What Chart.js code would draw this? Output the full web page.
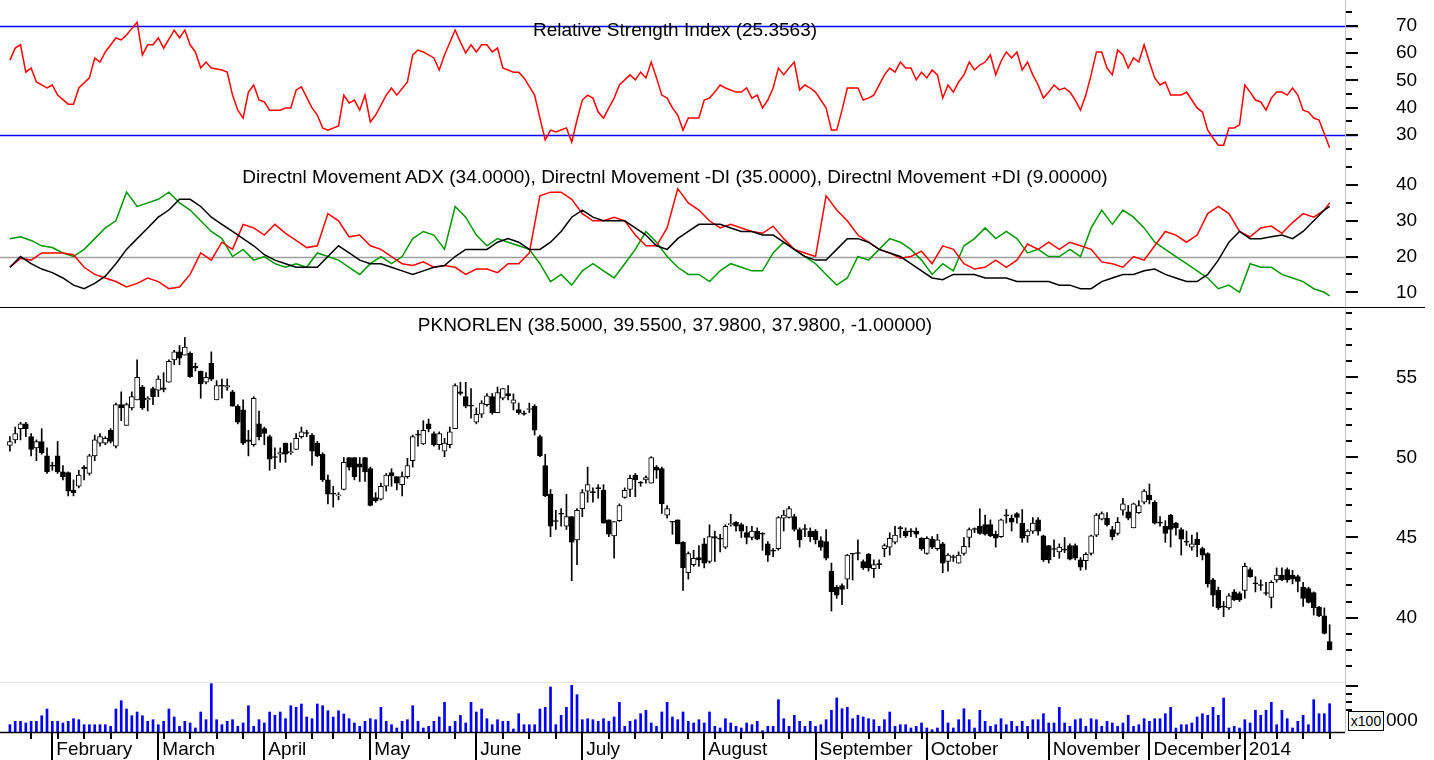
<!DOCTYPE html>
<html>
<head>
<meta charset="utf-8">
<title>PKNORLEN</title>
<script src="https://cdn.jsdelivr.net/npm/chart.js@4.4.1/dist/chart.umd.min.js"></script>
<style>
  body { margin: 0; background: #fff; }
  #page { position: relative; width: 1434px; height: 760px; overflow: hidden; background: #fff;
          font-family: "Liberation Sans", Arial, sans-serif; color: #000; }
  #page canvas { position: absolute; left: 0; }
  .title { position: absolute; left: 0; width: 1350px; text-align: center; font-size: 19px; line-height: 22px; white-space: nowrap; }
  .rule { position: absolute; }
  #unit { position: absolute; left: 1348px; top: 711px; width: 34px; height: 18px; border: 1px solid #000; background: #fff;
          font-size: 14px; line-height: 18px; text-align: center; }
  #unitVal { position: absolute; left: 1386px; top: 709px; font-size: 19px; line-height: 22px; }
</style>
</head>
<body>
<div id="page">
  <canvas id="rsiChart" width="1434" height="163" style="top:0"></canvas>
  <canvas id="dmiChart" width="1434" height="145" style="top:163px"></canvas>
  <canvas id="priceChart" width="1434" height="374" style="top:308px"></canvas>
  <canvas id="volChart" width="1434" height="78" style="top:682px"></canvas>
  <div class="rule" style="left:1345px;top:0;width:1px;height:732px;background:#c4c4c4"></div>
  <div class="rule" style="left:0;top:307px;width:1425px;height:1px;background:#000"></div>
  <div class="rule" style="left:0;top:682px;width:1345px;height:1px;background:#e2e2e2"></div>
  <div class="title" style="top:19px">Relative Strength Index (25.3563)</div>
  <div class="title" style="top:166px">Directnl Movement ADX (34.0000), Directnl Movement -DI (35.0000), Directnl Movement +DI (9.00000)</div>
  <div class="title" style="top:314px">PKNORLEN (38.5000, 39.5500, 37.9800, 37.9800, -1.00000)</div>
  <div id="unit">x100</div>
  <div id="unitVal">000</div>
</div>
<script>
// trading days: 22 Jan 2013 .. 27 Jan 2014, index 0..249
var monthNames = ['February', 'March', 'April', 'May', 'June', 'July', 'August', 'September', 'October', 'November', 'December', '2014'];
var monthStart = [8, 28, 48, 68, 88, 108, 131, 152, 173, 196, 215, 233];
var weekStart = [4, 9, 14, 19, 24, 29, 34, 39, 44, 52, 57, 61, 66, 69, 74, 79, 84, 93, 98, 103, 113, 118, 123, 128,
  133, 138, 142, 147, 157, 162, 167, 172, 177, 182, 187, 192, 201, 205, 210, 220, 225, 230, 232, 235, 239, 244, 249];

var open = [
  50.75, 51.1, 51.8, 52.1, 51.3, 50.6, 51.0, 50.1, 49.5, 50.1,
  49.1, 49.05, 47.95, 48.2, 49.4, 49.0, 50.1, 50.9, 50.9, 51.7,
  50.7, 53.3, 52.0, 53.1, 53.6, 54.4, 53.6, 54.3, 54.2, 54.35,
  54.7, 56.1, 56.6, 56.4, 56.5, 55.7, 55.4, 54.7, 55.9, 53.6,
  54.5, 54.4, 54.1, 53.2, 52.97, 51.1, 50.8, 52.1, 51.8, 51.3,
  50.05, 50.2, 50.9, 50.3, 50.5, 51.3, 51.5, 51.4, 50.9, 50.2,
  48.6, 47.75, 47.6, 48.0, 50.0, 50.0, 49.6, 50.0, 49.3, 47.5,
  47.4, 48.2, 49.05, 48.8, 48.3, 48.8, 49.8, 51.4, 50.85, 52.1,
  51.5, 50.8, 50.4, 50.8, 51.8, 54.1, 53.8, 53.2, 52.2, 52.7,
  53.3, 53.8, 52.8, 53.7, 54.0, 53.4, 53.0, 52.75, 53.0, 53.2,
  51.3, 49.5, 47.7, 46.0, 46.5, 45.7, 46.3, 44.85, 46.8, 47.9,
  47.85, 48.05, 47.97, 46.1, 45.1, 46.05, 47.5, 48.0, 48.9, 48.4,
  48.6, 48.4, 49.4, 49.3, 46.4, 45.95, 46.1, 44.7, 42.8, 43.3,
  43.75, 44.6, 43.5, 45.05, 44.9, 44.4, 45.8, 45.95, 45.8, 45.3,
  45.0, 45.4, 45.2, 44.6, 44.2, 44.3, 46.2, 46.25, 46.3, 45.5,
  45.5, 45.4, 45.4, 44.8, 44.75, 42.9, 41.9, 42.0, 42.4, 43.95,
  44.0, 43.5, 43.95, 43.05, 43.3, 44.3, 44.4, 44.7, 45.6, 45.4,
  45.35, 45.4, 44.95, 44.0, 44.9, 44.3, 44.6, 43.5, 43.75, 43.4,
  44.0, 45.0, 45.5, 45.7, 45.8, 45.8, 45.2, 45.05, 46.35, 46.2,
  46.5, 45.9, 45.1, 45.4, 46.1, 45.1, 44.5, 44.25, 44.1, 44.2,
  44.5, 44.5, 43.6, 43.55, 44.0, 45.15, 46.15, 46.2, 45.5, 45.25,
  46.7, 46.6, 45.6, 46.55, 47.2, 47.65, 47.2, 45.95, 45.7, 46.4,
  45.9, 45.5, 44.7, 44.4, 44.9, 44.3, 44.0, 42.35, 41.7, 40.7,
  40.6, 41.6, 41.5, 41.7, 43.0, 42.1, 42.05, 41.5, 41.25, 42.35,
  42.65, 43.0, 42.65, 42.55, 41.9, 41.8, 41.55, 40.65, 40.1, 38.5
];
var high = [
  51.3, 51.9, 52.2, 52.2, 51.5, 51.1, 51.8, 50.6, 49.7, 51.0,
  49.5, 49.1, 48.6, 49.2, 49.5, 50.2, 51.4, 51.5, 51.3, 51.8,
  53.4, 54.1, 53.4, 54.1, 56.1, 54.5, 53.8, 54.4, 55.1, 55.3,
  56.1, 56.7, 57.0, 57.5, 56.6, 55.9, 55.4, 55.3, 56.6, 54.8,
  54.9, 54.9, 54.2, 53.3, 53.6, 51.7, 53.8, 52.9, 51.9, 51.4,
  50.6, 50.6, 50.9, 50.9, 51.5, 51.9, 51.7, 51.5, 51.0, 50.3,
  48.9, 48.2, 47.8, 50.0, 50.0, 50.0, 50.0, 50.0, 49.4, 47.8,
  48.4, 49.0, 49.3, 48.8, 49.1, 49.95, 51.4, 51.7, 52.3, 52.4,
  51.6, 51.6, 51.2, 51.9, 54.6, 54.7, 54.7, 54.3, 53.1, 53.55,
  54.0, 54.0, 54.4, 54.3, 54.5, 53.97, 53.4, 52.9, 53.4, 53.3,
  51.4, 50.2, 48.0, 46.7, 46.8, 47.7, 46.3, 46.8, 48.0, 49.4,
  48.1, 48.3, 48.3, 46.1, 46.0, 47.1, 48.1, 48.9, 49.0, 48.5,
  48.85, 50.05, 49.5, 49.4, 47.0, 46.0, 46.1, 44.75, 44.1, 44.2,
  44.5, 44.95, 45.8, 45.4, 45.2, 45.8, 46.45, 46.0, 45.9, 45.7,
  45.7, 45.6, 45.3, 44.75, 44.3, 46.3, 46.7, 46.95, 46.45, 45.6,
  45.8, 45.6, 45.5, 45.05, 45.5, 43.4, 42.0, 42.1, 43.95, 44.0,
  44.85, 43.6, 44.0, 43.6, 43.6, 44.6, 45.3, 45.7, 45.7, 45.6,
  45.55, 45.6, 45.0, 45.05, 45.05, 45.2, 44.7, 44.0, 43.9, 44.1,
  45.0, 45.6, 45.6, 46.8, 46.4, 46.1, 45.4, 46.15, 46.75, 46.4,
  46.55, 46.75, 45.5, 46.25, 46.25, 45.15, 44.5, 44.85, 44.6, 45.0,
  44.6, 44.6, 43.75, 44.05, 45.15, 46.5, 46.6, 46.55, 45.7, 46.25,
  47.45, 47.0, 47.15, 47.3, 48.0, 48.34, 47.3, 46.3, 46.05, 46.45,
  45.95, 45.6, 45.4, 45.15, 45.3, 44.4, 44.05, 42.45, 41.9, 41.0,
  41.5, 41.75, 41.6, 43.4, 43.1, 42.55, 42.35, 42.2, 42.3, 43.1,
  43.1, 43.1, 42.95, 42.65, 42.2, 41.9, 41.6, 40.7, 40.6, 39.55
];
var low = [
  50.4, 50.9, 51.1, 51.3, 50.1, 49.8, 50.2, 49.0, 49.2, 49.0,
  48.6, 47.6, 47.6, 48.1, 48.6, 48.9, 49.8, 50.7, 50.8, 50.9,
  50.6, 52.3, 52.0, 52.97, 53.6, 53.0, 52.9, 53.3, 53.8, 54.1,
  54.7, 55.8, 55.8, 56.4, 55.0, 55.4, 53.7, 54.6, 54.8, 53.6,
  53.7, 54.2, 53.2, 52.1, 50.8, 50.1, 50.7, 51.1, 50.8, 49.2,
  49.3, 49.7, 49.7, 50.2, 50.5, 51.2, 51.3, 49.5, 50.05, 48.5,
  47.1, 46.9, 47.35, 47.97, 49.2, 48.6, 48.5, 48.5, 46.97, 47.2,
  47.35, 47.9, 48.2, 47.97, 47.6, 48.7, 49.4, 50.7, 50.8, 51.6,
  50.7, 50.5, 50.05, 50.6, 51.8, 53.9, 53.1, 52.45, 52.1, 52.5,
  53.2, 52.7, 52.8, 53.6, 53.6, 52.97, 52.7, 52.65, 52.8, 51.4,
  50.05, 47.55, 45.05, 45.5, 45.7, 45.5, 42.3, 43.3, 46.3, 47.2,
  47.2, 47.45, 45.9, 45.05, 43.7, 46.0, 47.45, 47.55, 47.55, 48.2,
  48.4, 48.4, 48.7, 46.5, 46.2, 45.2, 44.6, 41.7, 42.4, 43.2,
  43.2, 43.1, 43.4, 43.5, 44.1, 44.3, 45.7, 45.4, 45.0, 44.6,
  44.85, 44.85, 44.2, 43.5, 43.8, 44.2, 45.4, 46.2, 45.4, 44.4,
  45.05, 44.75, 44.6, 44.2, 43.6, 40.4, 41.2, 40.8, 41.8, 42.35,
  43.6, 43.0, 42.9, 42.5, 43.05, 43.8, 43.9, 44.6, 45.0, 45.0,
  45.05, 45.0, 44.2, 43.95, 44.3, 44.2, 42.8, 42.9, 43.5, 43.4,
  43.9, 44.4, 45.3, 45.2, 45.15, 45.05, 44.4, 45.0, 45.9, 45.4,
  45.9, 44.7, 44.7, 45.25, 45.15, 43.5, 43.4, 43.8, 43.7, 44.05,
  43.6, 43.6, 42.95, 43.0, 43.9, 45.05, 46.1, 45.7, 44.85, 45.15,
  46.4, 46.1, 45.6, 46.5, 47.1, 47.1, 45.84, 45.7, 44.7, 44.4,
  45.15, 43.9, 44.5, 44.2, 43.8, 43.6, 41.9, 40.7, 40.5, 40.05,
  40.5, 41.05, 41.0, 41.2, 42.5, 41.6, 41.7, 41.4, 40.6, 42.2,
  42.3, 42.2, 42.1, 41.6, 40.7, 40.9, 40.15, 40.05, 38.97, 37.98
];
var close = [
  51.0, 51.5, 52.1, 51.8, 50.5, 51.0, 50.3, 49.1, 49.45, 49.1,
  48.8, 47.9, 47.8, 48.9, 49.3, 50.1, 51.1, 51.3, 51.2, 51.0,
  53.3, 53.1, 53.3, 53.8, 55.0, 53.1, 53.7, 53.8, 54.9, 54.25,
  56.0, 56.6, 56.2, 56.9, 55.05, 55.6, 54.6, 55.0, 54.9, 54.5,
  54.45, 54.5, 53.2, 52.2, 50.9, 51.0, 53.7, 51.3, 51.5, 49.9,
  50.0, 50.3, 50.2, 50.35, 51.2, 51.6, 51.5, 50.4, 50.1, 48.6,
  47.7, 47.7, 47.65, 49.7, 49.4, 48.8, 49.4, 49.1, 47.0, 47.3,
  48.2, 48.9, 48.85, 48.4, 48.8, 49.5, 51.3, 51.4, 51.7, 51.8,
  50.8, 51.5, 50.9, 51.6, 54.5, 54.0, 53.2, 53.2, 52.7, 53.4,
  53.85, 52.8, 54.05, 54.3, 53.85, 53.6, 52.8, 52.7, 53.05, 51.7,
  50.1, 47.6, 45.7, 46.0, 46.45, 46.3, 44.7, 46.7, 47.8, 48.3,
  47.8, 48.05, 45.9, 45.2, 46.0, 47.0, 47.95, 48.7, 48.6, 48.4,
  48.75, 50.0, 49.2, 47.1, 46.8, 45.95, 44.6, 43.1, 44.0, 43.7,
  43.6, 43.4, 45.05, 44.95, 44.9, 45.7, 45.85, 45.7, 45.4, 45.0,
  45.4, 44.9, 45.2, 43.9, 44.15, 46.25, 46.4, 46.8, 45.5, 44.85,
  45.5, 45.05, 44.85, 44.4, 43.7, 41.6, 41.4, 41.75, 43.9, 43.95,
  44.0, 43.1, 43.1, 43.3, 43.3, 44.5, 44.95, 45.15, 45.55, 45.1,
  45.35, 45.2, 44.3, 44.95, 44.4, 44.85, 43.4, 43.9, 43.75, 43.9,
  44.45, 45.5, 45.5, 45.25, 45.2, 45.1, 44.95, 46.1, 46.35, 45.95,
  46.25, 44.95, 45.4, 45.9, 45.4, 43.6, 43.6, 44.25, 44.4, 44.2,
  43.65, 43.7, 43.15, 43.95, 45.1, 46.4, 46.5, 45.8, 45.05, 45.95,
  47.1, 46.2, 47.1, 47.0, 47.9, 47.35, 45.9, 45.9, 45.25, 45.5,
  45.6, 44.9, 44.7, 44.6, 44.55, 43.9, 42.1, 41.4, 40.6, 40.65,
  41.35, 41.1, 41.1, 43.2, 42.55, 42.1, 42.0, 41.5, 42.2, 42.65,
  42.35, 42.35, 42.4, 42.25, 41.2, 40.95, 40.6, 40.1, 39.0, 37.98
];
var volume = [
  7.3, 10.7, 10.7, 9, 10.7, 10.7, 16.3, 23, 10.7, 10.7,
  9, 10.7, 13.3, 12.3, 7.3, 7.3, 7.3, 7.3, 7.3, 5.7,
  23, 31.3, 23, 16.3, 20, 16.3, 10.7, 12.3, 7.3, 10.7,
  23, 15, 5.7, 10.7, 9, 4, 20, 12.3, 48.3, 12.3,
  7.3, 10.7, 12.3, 5.7, 9, 26.3, 5.7, 12.3, 9, 20,
  16.7, 20, 13.3, 26.3, 24.7, 28, 15, 13.3, 28, 26.3,
  21.3, 15, 21.3, 18, 13.3, 9, 5.7, 10.7, 13.3, 12.3,
  24.7, 10.7, 7.3, 4, 10.7, 12.3, 26.3, 10.7, 4, 5.7,
  10.7, 15, 29.7, 5.7, 10.7, 16.7, 9, 29.7, 20, 23,
  13.3, 7.3, 12.3, 10.7, 10.7, 3, 18.3, 7.3, 7.3, 7.3,
  23, 24.7, 45, 7.3, 16.7, 24.7, 46.7, 37.3, 12.3, 13.3,
  12.3, 10.7, 13.3, 10.7, 15, 29.7, 5.7, 10.7, 12.3, 18.3,
  21.7, 9, 5.7, 20, 29.7, 15, 12.3, 20, 10.7, 9,
  12.3, 9, 20, 5.7, 4, 13.3, 9, 5.7, 4, 9,
  7.3, 10.7, 1.3, 5.7, 5.7, 32.3, 13.3, 5.7, 16.7, 10.7,
  5.7, 10.7, 5.7, 7.3, 12.3, 21.7, 34, 23.3, 24.7, 13.3,
  16.7, 15, 13.3, 12.3, 5.7, 12.3, 20, 5.7, 7.3, 7.3,
  4, 5.7, 9, 4, 2.3, 4, 21.7, 9, 4, 12.3,
  23.3, 12.3, 4, 21.7, 10.7, 5.7, 7.3, 13.3, 7.3, 10.7,
  5.7, 10.7, 5.7, 12.3, 12.3, 18.3, 9, 9, 24.7, 9,
  5.7, 12.3, 13.3, 5.7, 13.3, 12.3, 5.7, 10.7, 9, 5.7,
  9, 16.7, 5.7, 7.3, 13.3, 10.7, 13.3, 13.3, 18.3, 24.7,
  4, 7.3, 7.3, 9, 15, 18.3, 16.7, 24.7, 16.7, 34,
  4, 5.7, 4, 12.3, 9, 21.7, 16.7, 21.7, 29.7, 7.3,
  21.7, 13.3, 4, 10.7, 16.7, 7.3, 32.3, 18.3, 18.3, 28.3
];
var rsi = [
  57.4, 61.8, 63, 53, 54.5, 49.4, null, 47.2, 48.3, 44.6,
  null, 41.3, 41.3, 47.2, null, 50.9, 58.2, 56.7, 60.4, null,
  65.5, 64.8, 66.6, null, 71.3, 59.3, 63, 63, 65.5, 61.8,
  null, 68.4, 65.5, 68.4, 63, 60.4, 54.5, 56.7, 54.5, null,
  53.8, 53, 44.6, 39.1, 36.2, 45.7, 48.3, 42.8, 42.1, 39.1,
  null, 39.1, 39.9, 39.9, 46.5, 47.6, null, 39.9, 37.3, 32.6,
  31.8, null, 33.3, 44.6, 41.7, 42.8, 39.1, 44.6, 34.8, 37.3,
  null, 44.6, 47.2, 44.6, null, 49.4, 59.3, 61.1, 60.4, null,
  58.2, 53.8, 59.3, null, 68.4, 64, 60, 63, 60.4, 63,
  63, 60.4, 61.8, 54.5, null, 53, 53, 50.9, null, 44.6,
  36.2, 28.2, 31.8, 31.1, null, 32.6, 27.4, 35.5, 42.8, 44.6,
  43.5, 38.4, 36.2, 39.9, 43.5, 48.3, null, 52, 50.2, 53,
  50.9, 56.7, 50.9, 44.6, 43.5, 39.9, 37.3, 31.8, 36.2, 36.2,
  36.2, 42.8, 43.5, 45.7, 48.3, 47.2, null, 45.7, 45.7, 47.2,
  43.5, 44.6, 39.9, 42.8, 47.2, 54.5, 52, 54.5, 56.7, 46.5,
  48.3, 47.2, 45.7, 42.8, 39.9, 31.8, 31.8, 39.1, 47.2, 47.2,
  47.2, 42.8, 43.5, 44.6, null, 52, 54.5, 53, 56.7, 54.5,
  54.5, 50.2, 53, 50.9, 53.8, 52, 43.5, 48.3, 45.7, 49.4,
  52, 56.7, 53.8, 55.6, 56.7, 59.3, 52, 57, 60.4, 58.2,
  60.4, 53.8, 56.7, 52, 48.3, 43.5, 45.7, 48.3, 46.5, 47.2,
  45.7, 42.8, 39.1, 44.6, 52, 60.4, 60.4, 54.5, 52, 61.1,
  59.3, 54.5, 58.2, 56.7, 63, 56.7, 50.9, 48.3, 49.4, 44.6,
  44.6, 44.6, 45.7, 42.8, 39.9, 38.4, 31.8, 28.9, 26.3, 26.3,
  32.6, 32.6, 33.7, 48.3, 45.7, 42.8, 42.1, 39.1, 43.5, 45.7,
  45.7, 44.6, 47.2, 44.6, 39.1, 38.4, 36.2, 35.5, 30.5, 25.36
];
// directional movement, read every second day (last value = day 249)
var adx = [
  17, 20, 18, 16.5, 15.5, 14, 12, 11, 12.5, 14.5,
  18, 22, 25, 28, 31, 33, 36, 36, 34, 31,
  29, 27, 25, 23, 20.5, 19, 18, 17, 17, 17,
  20, 23, 21, 19, 18, 18, 17, 16, 15, 16,
  17, 17.5, 20, 22, 22, 22, 24, 25, 24, 22,
  22, 24, 27, 31, 33, 31, 30, 30, 30, 28,
  26, 23, 22, 25, 27, 29, 29, 29, 28, 27,
  27, 26, 26, 24, 22, 20, 19, 19, 22, 25,
  25, 24, 22, 21, 20, 18, 16, 14, 13.5, 15,
  15, 15, 14, 14, 14, 13, 13, 13, 13, 12,
  12, 11, 11, 13, 14, 15, 15, 16, 16.5, 15,
  14, 13, 13, 15, 19, 24, 27, 25, 25, 25.5,
  26, 25, 27, 30, 33, 34
];
var diMinus = [
  17, 19.5, 19, 21, 21, 21, 20.5, 17, 15, 14,
  13, 11.5, 12.5, 14, 13, 11, 11.5, 15, 21, 19,
  24, 22, 29, 28, 26, 29, 26.5, 24.5, 22.5, 23,
  32, 30, 25.5, 26, 23, 22, 20, 18, 17.5, 18.5,
  17, 17.5, 17, 15, 16.5, 16.5, 15.5, 18, 18, 21,
  37, 38, 38, 36, 32, 30, 30, 31, 30, 26,
  23, 23, 28, 39, 35, 33, 30, 28, 29, 28,
  27, 26.5, 28.5, 25, 22, 21, 20, 37, 33, 30,
  26, 24, 22, 21, 19.5, 20, 21.5, 18, 23, 22,
  18, 16.5, 17, 19, 17, 19, 23.5, 22, 24, 22,
  24, 23, 22, 18.5, 18, 17, 20, 19, 23, 27,
  26, 24, 26, 32, 34, 32, 27, 25.5, 28, 28.5,
  26.5, 29.5, 32, 31, 33, 35
];
var diPlus = [
  25, 25.5, 24.5, 23, 22.5, 21, 20, 22, 25, 28,
  30, 38, 34, 35, 36, 38, 35, 33, 30, 27,
  25, 20, 22, 19, 20, 18, 17, 18, 17, 21,
  20, 19, 17, 15, 18, 20, 18, 20, 25, 27,
  26, 22, 34, 31, 26, 23, 25, 24, 23, 22,
  18, 13, 15, 12, 16, 18, 16, 14, 18, 22,
  27, 24, 20, 17, 15, 15, 13, 16, 18, 17,
  16, 16, 21, 24, 22, 20, 18, 15, 12, 14,
  20, 19, 22, 25, 24, 22, 19, 15, 18, 16,
  23, 25, 28, 25, 27, 25, 21, 22, 20, 20,
  22, 20, 28, 33, 29, 33, 31, 28, 24, 22,
  20, 18, 16, 14, 11, 12, 10, 18, 17, 17,
  15, 14, 13, 11, 10, 9
];

var xMin = -1.87, xMax = 251.9;
var lastDay = open.length - 1;

Chart.defaults.font.family = '"Liberation Sans", Arial, sans-serif';
Chart.defaults.color = '#000';

function daily(arr) {
  var pts = [];
  arr.forEach(function (v, i) { if (v !== null) pts.push({ x: i, y: v }); });
  return pts;
}
function everyOther(arr) {
  return arr.map(function (v, k) { return { x: Math.min(k * 2, lastDay), y: v }; });
}
// fixed axis box, and no extra room reserved for the labels
function fixRight(s) {
  s.width = 89;
  s.paddingTop = 0; s.paddingBottom = 0; s.paddingLeft = 0; s.paddingRight = 0;
}
function hiddenX() { return { type: 'linear', display: false, min: xMin, max: xMax, offset: false }; }
function rightY(min, max, labels) {
  return {
    type: 'linear', position: 'right', min: min, max: max,
    afterFit: fixRight,
    afterBuildTicks: function (s) { s.ticks = labels.map(function (v) { return { value: v }; }); },
    grid: { display: false, drawTicks: false },
    border: { display: false },
    ticks: { padding: 51, font: { size: 19 }, color: '#000', display: labels.length > 0 }
  };
}

var marks = {
  id: 'marks',
  beforeDatasetsDraw: function (chart, args, o) {
    var ctx = chart.ctx, area = chart.chartArea, ys = chart.scales.y;
    (o.levels || []).forEach(function (lv) {
      var py = Math.round(ys.getPixelForValue(lv.v)) + 0.5;
      ctx.save();
      ctx.strokeStyle = lv.color;
      ctx.lineWidth = lv.w;
      ctx.beginPath();
      ctx.moveTo(area.left, py);
      ctx.lineTo(area.right + 13, py);
      ctx.stroke();
      ctx.restore();
    });
  },
  afterDraw: function (chart, args, o) {
    var ctx = chart.ctx, area = chart.chartArea, ys = chart.scales.y, xs = chart.scales.x;
    ctx.save();
    ctx.strokeStyle = '#000';
    ctx.lineWidth = 2;
    ctx.beginPath();
    (o.major || []).forEach(function (v) {
      var py = Math.round(ys.getPixelForValue(v));
      ctx.moveTo(area.right, py); ctx.lineTo(area.right + 13, py);
    });
    (o.minor || []).forEach(function (v) {
      var py = Math.round(ys.getPixelForValue(v));
      ctx.moveTo(area.right, py); ctx.lineTo(area.right + 7, py);
    });
    ctx.stroke();
    if (o.timeAxis) {
      ctx.lineWidth = 1.5;
      ctx.beginPath();
      ctx.moveTo(area.left, area.bottom + 0.5);
      ctx.lineTo(area.right, area.bottom + 0.5);
      ctx.stroke();
      ctx.lineWidth = 2;
      ctx.beginPath();
      monthStart.forEach(function (d) {
        var px = Math.round(xs.getPixelForValue(d));
        ctx.moveTo(px, area.bottom); ctx.lineTo(px, chart.height);
      });
      weekStart.forEach(function (d) {
        var px = Math.round(xs.getPixelForValue(d));
        ctx.moveTo(px, area.bottom); ctx.lineTo(px, area.bottom + 7);
      });
      ctx.stroke();
    }
    ctx.restore();
  }
};

var common = {
  responsive: false,
  animation: false,
  events: [],
  layout: { padding: 0, autoPadding: false }
};
function opts(scales, markOpts) {
  return Object.assign({}, common, {
    scales: scales,
    plugins: { legend: { display: false }, tooltip: { enabled: false }, marks: markOpts }
  });
}
function lineSet(data, color) {
  return { type: 'line', data: data, borderColor: color, borderWidth: 1.5, pointRadius: 0, tension: 0, fill: false };
}

// RSI
new Chart(document.getElementById('rsiChart'), {
  type: 'line',
  data: { datasets: [lineSet(daily(rsi), '#ff0000')] },
  options: opts({ x: hiddenX(), y: rightY(19.76, 79.4, [30, 40, 50, 60, 70]) }, {
    levels: [{ v: 70, color: '#0000ff', w: 1.5 }, { v: 30, color: '#0000ff', w: 1.5 }],
    major: [30, 40, 50, 60, 70], minor: [25, 35, 45, 55, 65, 75]
  }),
  plugins: [marks]
});

// Directional movement
new Chart(document.getElementById('dmiChart'), {
  type: 'line',
  data: { datasets: [
    lineSet(everyOther(adx), '#000000'),
    lineSet(everyOther(diMinus), '#ff0000'),
    lineSet(everyOther(diPlus), '#009900')
  ] },
  options: opts({ x: hiddenX(), y: rightY(5.61, 46.15, [10, 20, 30, 40]) }, {
    levels: [{ v: 20, color: '#a0a0a0', w: 1.5 }],
    major: [10, 20, 30, 40], minor: [15, 25, 35, 45]
  }),
  plugins: [marks]
});

// Candles
var bodies = [], wicks = [], bodyColors = [];
for (var i = 0; i < open.length; i++) {
  bodies.push({ x: i, y: [open[i], close[i]] });
  wicks.push({ x: i, y: [low[i], high[i]] });
  bodyColors.push(close[i] > open[i] ? '#ffffff' : '#000000');
}
var priceMinor = [];
for (var p = 37; p <= 59; p++) { if (p % 5 !== 0) priceMinor.push(p); }
new Chart(document.getElementById('priceChart'), {
  type: 'bar',
  data: { datasets: [
    { data: bodies, backgroundColor: bodyColors, borderColor: '#000', borderWidth: 1, borderSkipped: false,
      barThickness: 5, grouped: false, minBarLength: 1 },
    { data: wicks, backgroundColor: '#000', borderWidth: 0, barThickness: 1, grouped: false }
  ] },
  options: opts({ x: hiddenX(), y: rightY(35.97, 59.34, [40, 45, 50, 55]) }, {
    major: [40, 45, 50, 55], minor: priceMinor
  }),
  plugins: [marks]
});

// Volume with the time axis
new Chart(document.getElementById('volChart'), {
  type: 'bar',
  data: { datasets: [
    { data: volume.map(function (v, i) { return { x: i, y: v }; }), backgroundColor: '#0000ff', barThickness: 2, grouped: false }
  ] },
  options: opts({
    x: {
      type: 'linear', position: 'bottom', min: xMin, max: xMax, offset: false,
      afterFit: function (s) { s.height = 28; s.paddingLeft = 0; s.paddingRight = 0; },
      afterBuildTicks: function (s) { s.ticks = monthStart.map(function (d) { return { value: d }; }); },
      grid: { display: false, drawTicks: false },
      border: { display: false },
      ticks: {
        autoSkip: false, maxRotation: 0, minRotation: 0, align: 'start', labelOffset: 4, padding: 6,
        font: { size: 19 }, color: '#000',
        callback: function (v, idx) { return monthNames[idx]; }
      }
    },
    y: rightY(0, 50, [])
  }, { major: [46], minor: [22, 30, 38], timeAxis: true }),
  plugins: [marks]
});
</script>
</body>
</html>
